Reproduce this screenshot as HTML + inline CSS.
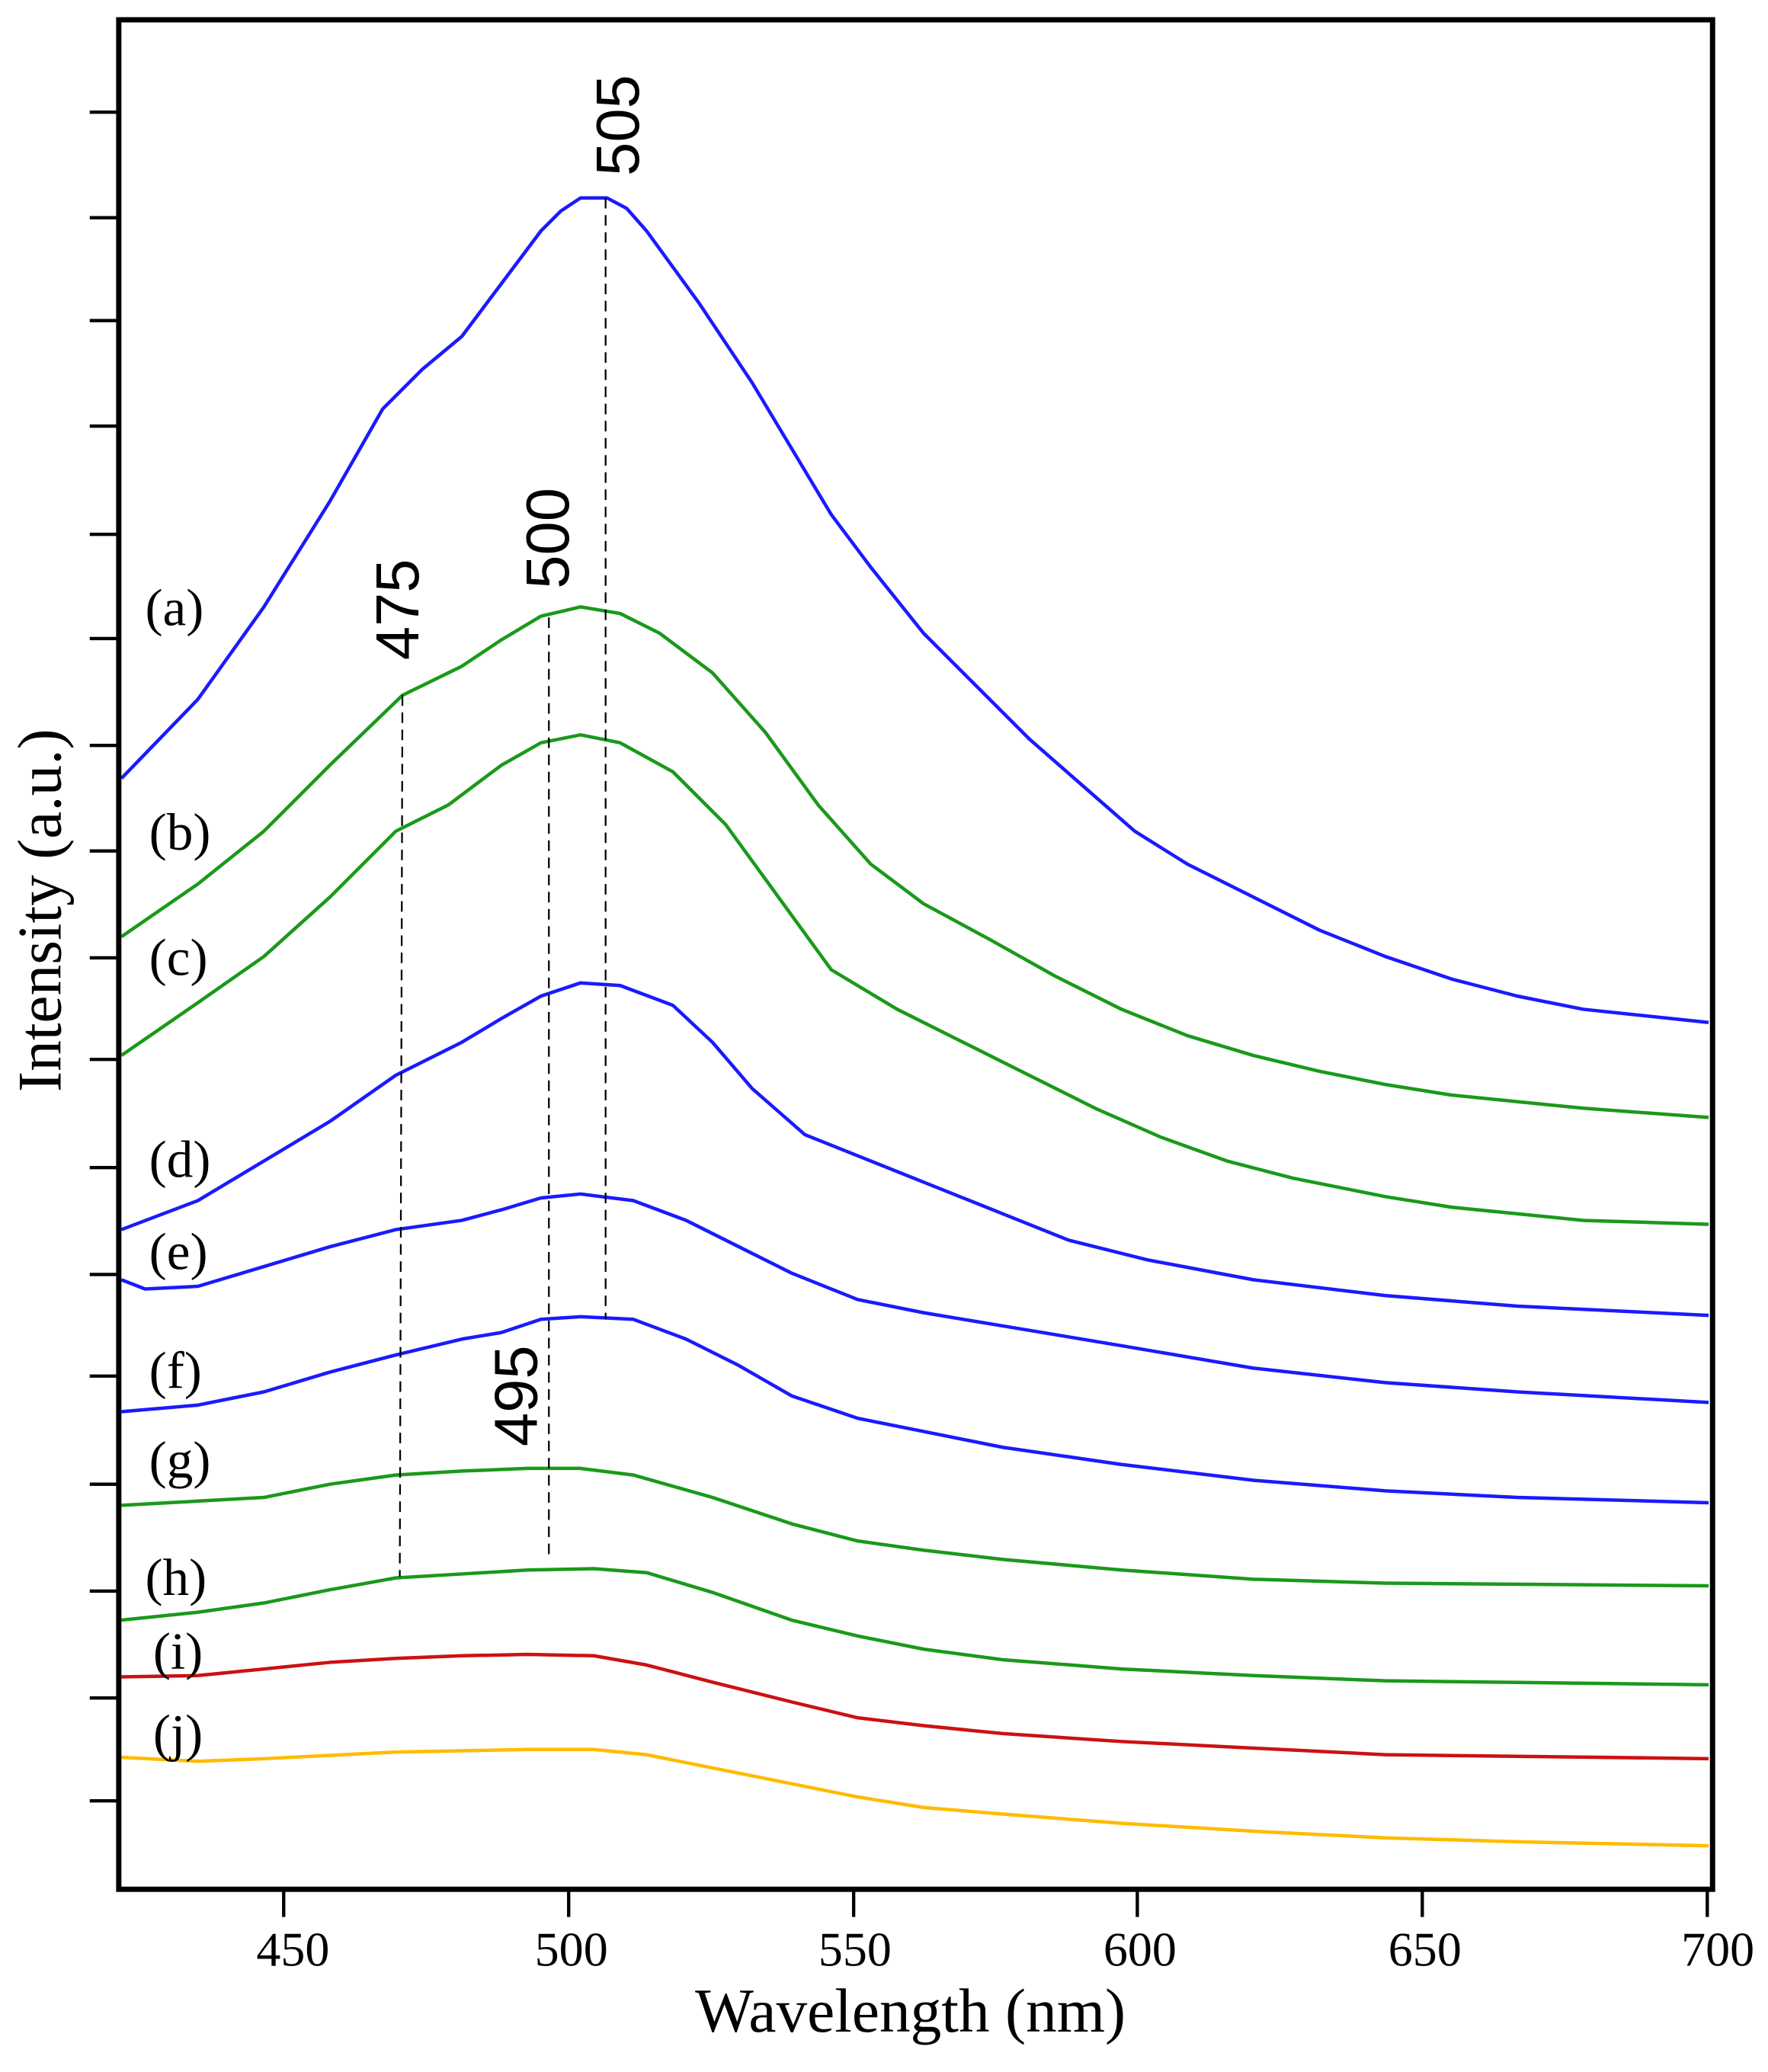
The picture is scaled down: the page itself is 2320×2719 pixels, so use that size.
<!DOCTYPE html>
<html><head><meta charset="utf-8"><style>html,body{margin:0;padding:0;background:#fff}svg{display:block}</style></head>
<body>
<svg width="2320" height="2719" viewBox="0 0 1340 1570.5" xmlns="http://www.w3.org/2000/svg">
<rect x="0" y="0" width="1340" height="1570.5" fill="#fff"/>
<g fill="none" stroke-width="2.6" stroke-linejoin="round">
<polyline stroke="#1a1aff" points="92,590 150,530 200,460 250,380 290,310 320,280 350,255 380,215 410,175 425,160 440,150 460,150 475,158 490,175 530,230 570,290 600,340 630,390 660,430 700,480 740,520 780,560 820,595 860,630 900,655 950,680 1000,705 1050,725 1100,742 1150,755 1200,765 1295,775"/>
<polyline stroke="#1a991a" points="92,710 150,670 200,630 250,580 305,527 350,505 380,485 410,467 440,460 470,465 500,480 540,510 580,555 620,610 660,655 700,685 750,712 800,740 850,765 900,785 950,800 1000,812 1050,822 1100,830 1200,840 1295,847"/>
<polyline stroke="#1a991a" points="92,800 150,760 200,725 250,680 300,630 340,610 380,580 410,563 440,557 470,563 510,585 550,625 590,680 630,735 680,765 730,790 780,815 830,840 880,862 930,880 980,893 1050,907 1100,915 1200,925 1295,928"/>
<polyline stroke="#1a1aff" points="92,932 150,910 200,880 250,850 300,815 350,790 380,772 410,755 440,745 470,747 510,762 540,790 570,825 610,860 660,880 710,900 760,920 810,940 870,955 950,970 1050,982 1150,990 1295,997"/>
<polyline stroke="#1a1aff" points="92,970 110,977 150,975 200,960 250,945 300,932 350,925 380,917 410,908 440,905 480,910 520,925 560,945 600,965 650,985 700,995 760,1005 850,1020 950,1037 1050,1048 1150,1055 1295,1063"/>
<polyline stroke="#1a1aff" points="92,1070 150,1065 200,1055 250,1040 300,1027 350,1015 380,1010 410,1000 440,998 480,1000 520,1015 560,1035 600,1058 650,1075 700,1085 760,1097 850,1110 950,1122 1050,1130 1150,1135 1295,1139"/>
<polyline stroke="#1a991a" points="92,1141 200,1135 250,1125 300,1118 350,1115 400,1113 440,1113 480,1118 540,1135 600,1155 650,1168 700,1175 760,1182 850,1190 950,1197 1050,1200 1295,1202"/>
<polyline stroke="#1a991a" points="92,1228 150,1222 200,1215 250,1205 300,1196 350,1193 400,1190 450,1189 490,1192 540,1207 600,1228 650,1240 700,1250 760,1258 850,1265 950,1270 1050,1274 1295,1277"/>
<polyline stroke="#cc1111" points="92,1271 150,1270 200,1265 250,1260 300,1257 350,1255 400,1254 450,1255 490,1262 540,1275 600,1290 650,1302 700,1308 760,1314 850,1320 950,1325 1050,1330 1295,1333"/>
<polyline stroke="#ffbb00" points="92,1332 150,1335 200,1333 300,1328 400,1326 450,1326 490,1330 540,1340 600,1352 650,1362 700,1370 760,1375 850,1382 950,1388 1050,1393 1150,1396 1295,1399"/>
</g>
<g stroke="#000" stroke-width="1.3" stroke-dasharray="8,5" fill="none">
<line x1="459" y1="150" x2="459" y2="1000"/>
<line x1="416" y1="468" x2="416" y2="1183"/>
<line x1="305" y1="527" x2="303" y2="1195"/>
</g>
<rect x="90" y="15" width="1208" height="1417" fill="none" stroke="#000" stroke-width="4"/>
<g stroke="#000" stroke-width="2.5">
<line x1="68" y1="85" x2="90" y2="85"/><line x1="68" y1="165" x2="90" y2="165"/><line x1="68" y1="243" x2="90" y2="243"/><line x1="68" y1="323" x2="90" y2="323"/><line x1="68" y1="405" x2="90" y2="405"/><line x1="68" y1="484" x2="90" y2="484"/><line x1="68" y1="565" x2="90" y2="565"/><line x1="68" y1="645" x2="90" y2="645"/><line x1="68" y1="726" x2="90" y2="726"/><line x1="68" y1="803" x2="90" y2="803"/><line x1="68" y1="885" x2="90" y2="885"/><line x1="68" y1="966" x2="90" y2="966"/><line x1="68" y1="1043" x2="90" y2="1043"/><line x1="68" y1="1125" x2="90" y2="1125"/><line x1="68" y1="1206" x2="90" y2="1206"/><line x1="68" y1="1287" x2="90" y2="1287"/><line x1="68" y1="1365" x2="90" y2="1365"/>
<line x1="215" y1="1432" x2="215" y2="1453"/><line x1="431" y1="1432" x2="431" y2="1453"/><line x1="647" y1="1432" x2="647" y2="1453"/><line x1="862" y1="1432" x2="862" y2="1453"/><line x1="1078" y1="1432" x2="1078" y2="1453"/><line x1="1294" y1="1432" x2="1294" y2="1453"/>
</g>
<g font-family="Liberation Serif, serif" font-size="37" fill="#000" text-anchor="middle">
<text x="222" y="1490">450</text><text x="433" y="1490">500</text><text x="648" y="1490">550</text><text x="864" y="1490">600</text><text x="1080" y="1490">650</text><text x="1302" y="1490">700</text>
<text x="690" y="1540" font-size="47">Wavelength (nm)</text>
<text transform="translate(46,690) rotate(-90)" font-size="47">Intensity (a.u.)</text>
</g>
<g font-family="Liberation Serif, serif" font-size="40" fill="#000">
<text x="110" y="474">(a)</text><text x="113" y="644">(b)</text><text x="113" y="739">(c)</text><text x="113" y="892">(d)</text><text x="113" y="962">(e)</text><text x="113" y="1052">(f)</text><text x="113" y="1120">(g)</text><text x="110" y="1209">(h)</text><text x="116" y="1265">(i)</text><text x="116" y="1327">(j)</text>
</g>
<g font-family="Liberation Sans, sans-serif" font-size="46" fill="#000" text-anchor="middle">
<text transform="translate(484,95) rotate(-90)">505</text>
<text transform="translate(431,408) rotate(-90)">500</text>
<text transform="translate(317,462) rotate(-90)">475</text>
<text transform="translate(407,1058) rotate(-90)">495</text>
</g>
</svg>
</body></html>
